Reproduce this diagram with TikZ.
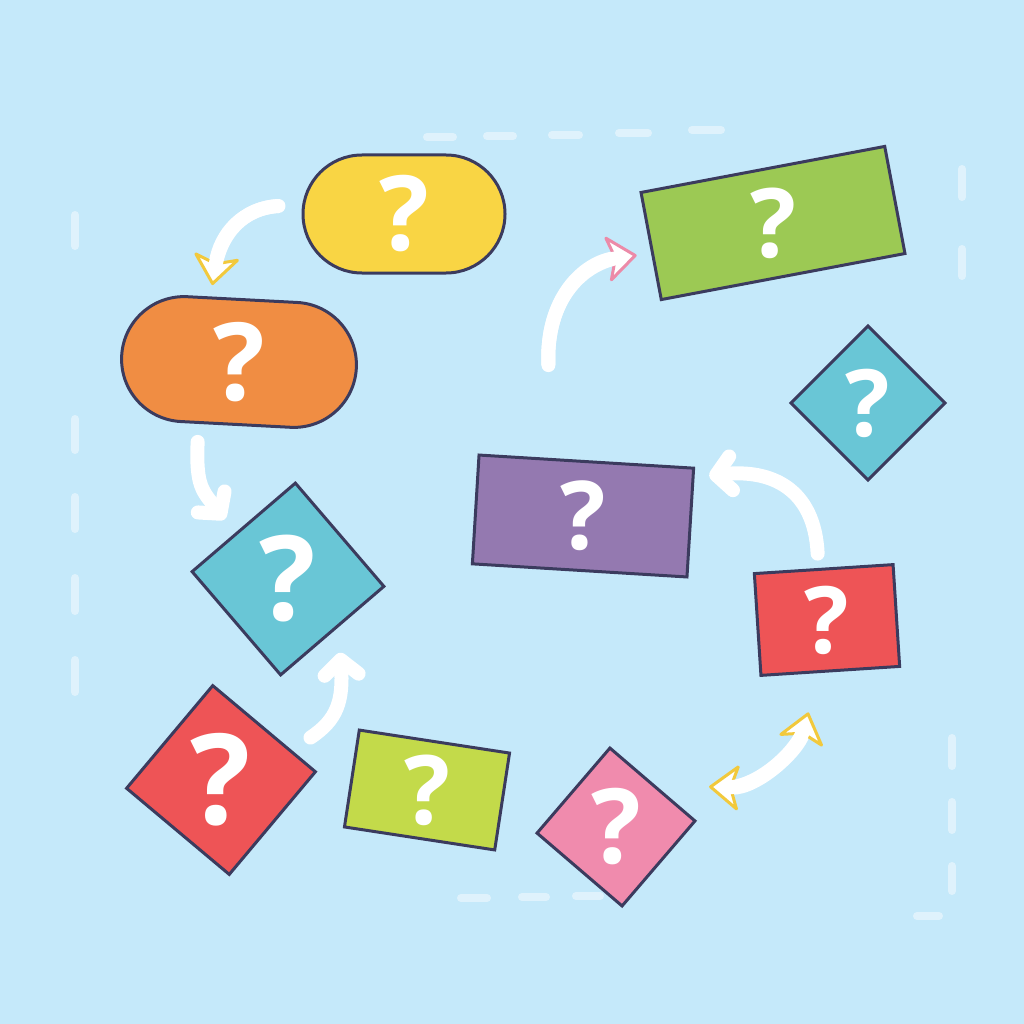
\documentclass[tikz,border=0pt]{standalone}
\usepackage{fontspec}
\newfontfamily\qfont{Open Sans}
\usetikzlibrary{shapes.misc,arrows.meta}

\definecolor{skybg}{HTML}{C5E9FA}
\definecolor{inkline}{HTML}{3B3B5E}
\definecolor{sunyellow}{HTML}{F9D544}
\definecolor{tangerine}{HTML}{F08D43}
\definecolor{grassgreen}{HTML}{9CC954}
\definecolor{lagoon}{HTML}{69C6D6}
\definecolor{lavender}{HTML}{9479B0}
\definecolor{tomato}{HTML}{EE5456}
\definecolor{limegreen}{HTML}{C3DA4A}
\definecolor{bubblegum}{HTML}{F08BAD}
\definecolor{goldrim}{HTML}{F2C93C}
\definecolor{rosepink}{HTML}{EC8AA8}

\newcommand\qm[2]{\rotatebox{#2}{\fontsize{#1}{#1}\selectfont ?}}

\begin{document}
\begin{tikzpicture}[x=1pt,y=-1pt,
  card/.style={rectangle,draw=inkline,line width=3pt,inner sep=0pt,
    text=white,font=\qfont\bfseries},
  pill/.style={card,rounded rectangle},
  flow/.style={draw=white,line width=14pt,line cap=round},
  plain tip/.style={flow,-{Straight Barb[round,length=15pt,width=34pt]}},
  rim tip/.style={flow,
    -{Stealth[round,length=32pt,width=50pt,inset=8pt,fill=white,color=#1,line width=3pt]},
    postaction={draw=white,line width=14pt,line cap=butt,-,shorten >=16pt}},
  rim both/.style={flow,
    {Stealth[round,length=32pt,width=50pt,inset=8pt,fill=white,color=#1,line width=3pt]}-%
    {Stealth[round,length=32pt,width=50pt,inset=8pt,fill=white,color=#1,line width=3pt]},
    postaction={draw=white,line width=14pt,line cap=butt,-,shorten <=16pt,shorten >=16pt}},
  guide/.style={draw=white,opacity=.45,line width=8pt,line cap=round}]

  \useasboundingbox (0,0) rectangle (1024,1024);
  \fill[skybg] (0,0) rectangle (1024,1024);

  \foreach \a/\y/\b in {427/137/453,487/136/513,552/135/579,619/133/648,692/130/721,
      461/898/487,522/897/546,576/896/600,917/916/939}
    \draw[guide] (\a,\y) -- (\b,\y);
  \foreach \a/\b in {215/246,419/450,497/529,578/611,660/692}
    \draw[guide] (75,\a) -- (75,\b);
  \foreach \a/\b in {169/197,249/276}
    \draw[guide] (962,\a) -- (962,\b);
  \foreach \a/\b in {738/766,802/830,866/891}
    \draw[guide] (952,\a) -- (952,\b);

  \node[pill,fill=sunyellow,minimum width=202pt,minimum height=118pt] (YellowPill) at (404,214) {\qm{104}{0}};
  \node[pill,fill=tangerine,minimum width=235pt,minimum height=125pt,rotate=-3] (OrangePill) at (239,362) {\qm{108}{3}};
  \node[card,fill=grassgreen,minimum width=248pt,minimum height=109pt,rotate=10.7] (GreenBox) at (773,223) {\qm{96}{-10.7}};
  \node[card,fill=lagoon,minimum size=109pt,rotate=45] (TealKite) at (868,403) {\qm{93}{-45}};
  \node[card,fill=lavender,minimum width=215pt,minimum height=109pt,rotate=-3.5] (VioletBox) at (583,516) {\qm{95}{3.5}};
  \node[card,fill=tomato,minimum width=139pt,minimum height=102pt,rotate=3.7] (RedBox) at (827,620) {\qm{93}{-3.7}};
  \node[card,fill=lagoon,minimum size=136pt,rotate=40.6] (BlueKite) at (288,579) {\qm{118}{-40.6}};
  \node[card,fill=tomato,minimum size=134pt,rotate=-40] (RedKite) at (221,780) {\qm{126}{40}};
  \node[card,fill=limegreen,minimum width=152pt,minimum height=98pt,rotate=-8.7] (LimeBox) at (427,790) {\qm{96}{8.7}};
  \node[card,fill=bubblegum,minimum size=112pt,rotate=-40.6] (PinkKite) at (616,827) {\qm{104}{40.6}};

  \draw[rim tip=goldrim] ([shift={(-23,-8)}]YellowPill.west)
    .. controls +(-35,2) and +(8,-52) .. ([shift={(-30,-13)}]OrangePill.north);
  \draw[rim tip=rosepink] ([shift={(-38,-95)}]VioletBox.north)
    .. controls +(-3,-67) and +(-53,7) .. ([shift={(-13,9)}]GreenBox.west);
  \draw[plain tip] ([shift={(-6,-14)}]RedBox.north)
    .. controls +(-3,-65) and +(62,-7) .. ([shift={(14,9)}]VioletBox.north east);
  \draw[plain tip] ([shift={(-38,16)}]OrangePill.south)
    .. controls +(-2,45) and +(-22,-28) .. ([shift={(-18,-7)}]BlueKite.north);
  \draw[plain tip] ([shift={(-7,-34)}]RedKite.north east)
    .. controls +(27,-18) and +(3,48) .. ([shift={(7,21)}]BlueKite.south);
  \draw[rim both=goldrim] ([shift={(12,-34)}]PinkKite.north east)
    .. controls +(48,2) and +(-10,38) .. ([shift={(-22,40)}]RedBox.south);
\end{tikzpicture}
\end{document}
